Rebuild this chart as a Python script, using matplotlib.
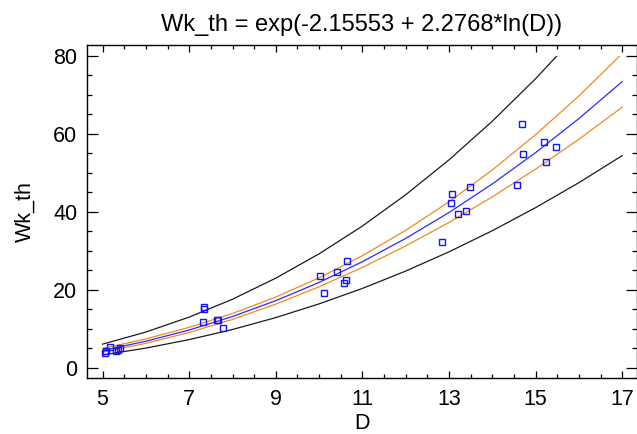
import numpy as np
import matplotlib
matplotlib.use("Agg")
import matplotlib.pyplot as plt
from matplotlib.patches import Rectangle
from matplotlib.ticker import MultipleLocator

plt.rcParams['font.family'] = ['Liberation Sans', 'DejaVu Sans']

# observed points
D = [5.05, 5.07, 5.17, 5.31, 5.36, 5.40,
     7.31, 7.34, 7.34, 7.64, 7.67, 7.78,
     10.02, 10.12, 10.42, 10.57, 10.63, 10.65,
     12.84, 13.04, 13.07, 13.20, 13.39, 13.48,
     14.56, 14.69, 14.71, 15.20, 15.23, 15.46]
Wk_th = [3.9, 4.3, 5.4, 4.4, 4.7, 5.2,
         11.85, 15.0, 15.6, 12.2, 12.2, 10.3,
         23.5, 19.3, 24.5, 21.7, 22.5, 27.3,
         32.2, 42.2, 44.5, 39.5, 40.3, 46.3,
         46.8, 62.4, 54.7, 57.9, 52.7, 56.5]

# fitted model and limits read at D = 5..17
D_line = [5, 6, 7, 8, 9, 10, 11, 12, 13, 14, 15, 16, 17]
fit = [4.52, 6.85, 9.73, 13.18, 17.24, 21.91, 27.22, 33.19, 39.82, 47.14, 55.16, 63.88, 73.35]
conf_hi = [5.01, 7.44, 10.41, 13.96, 18.17, 23.08, 28.76, 35.24, 42.55, 50.71, 59.75, 69.67, 80.54]
conf_lo = [4.08, 6.31, 9.10, 12.44, 16.36, 20.80, 25.76, 31.26, 37.27, 43.82, 50.92, 58.57, 66.80]
pred_hi = [6.11, 9.21, 13.03, 17.61, 23.01, 29.24, 36.35, 44.37, 53.30, 63.20, 74.09, 85.98, 98.93]
pred_lo = [3.34, 5.10, 7.27, 9.86, 12.91, 16.42, 20.38, 24.83, 29.75, 35.16, 41.07, 47.46, 54.39]

fig = plt.figure(figsize=(6.37, 4.34), dpi=100)
ax = fig.add_axes([87/637, 56/434, 550/637, 333/434])

# limits are cut off at the top of the value range (80)
clip = Rectangle((4, -10), 15, 90, transform=ax.transData)
lines = []
lines += ax.plot(D_line, pred_hi, color='#1a1a1a', lw=0.9)
lines += ax.plot(D_line, pred_lo, color='#1a1a1a', lw=0.9)
lines += ax.plot(D_line, conf_hi, color='#f08a24', lw=0.9)
lines += ax.plot(D_line, conf_lo, color='#f08a24', lw=0.9)
lines += ax.plot(D_line, fit, color='#2b2bff', lw=0.9)
for ln in lines:
    ln.set_clip_path(clip)

ax.plot(D, Wk_th, ls='none', marker='s', ms=4.2, mfc='none', mec='#1414ff', mew=1.0)

ax.set_xlim(4.64, 17.34)
ax.set_ylim(-2.56, 82.7)
ax.set_xticks([5, 7, 9, 11, 13, 15, 17])
ax.xaxis.set_minor_locator(MultipleLocator(0.5))
ax.yaxis.set_major_locator(MultipleLocator(20))
ax.yaxis.set_minor_locator(MultipleLocator(5))

ax.tick_params(which='both', direction='in', top=True, right=True, labelsize=15.5, width=0.9)
ax.tick_params(axis='x', which='major', length=5, pad=8)
ax.tick_params(axis='x', which='minor', length=3)
ax.tick_params(axis='y', which='major', length=8, pad=7)
ax.tick_params(axis='y', which='minor', length=3.5)
for s in ax.spines.values():
    s.set_linewidth(1.0)

ax.set_xlabel('D', fontsize=15.5)
ax.set_ylabel('Wk_th', fontsize=15.5)
ax.xaxis.set_label_coords(0.5, -0.104)
ax.yaxis.set_label_coords(-0.094, 0.5)

fig.text(362/637, 1 - 31/434, 'Wk_th = exp(-2.15553 + 2.2768*ln(D))',
         ha='center', va='baseline', fontsize=17)

fig.savefig('out.png', dpi=100)
